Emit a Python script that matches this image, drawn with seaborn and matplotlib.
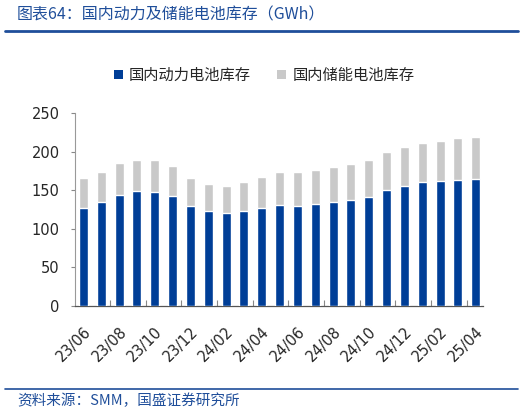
import numpy as np
import pandas as pd
import matplotlib
matplotlib.use('Agg')
import matplotlib.pyplot as plt
from matplotlib.patches import Patch
from matplotlib.lines import Line2D
import seaborn as sns

# monthly inventory, GWh
months = ['23/06', '23/07', '23/08', '23/09', '23/10', '23/11', '23/12',
          '24/01', '24/02', '24/03', '24/04', '24/05', '24/06', '24/07',
          '24/08', '24/09', '24/10', '24/11', '24/12', '25/01', '25/02',
          '25/03', '25/04']
power = [127.2, 134.9, 144.4, 148.7, 147.8, 143.1, 129.7, 122.8, 120.3, 122.8,
         126.3, 130.6, 129.3, 131.9, 134.9, 137.1, 141.8, 150.0, 156.0, 160.8,
         161.6, 163.4, 164.7]
total = [166.4, 174.1, 185.3, 189.7, 188.8, 181.9, 165.9, 158.6, 155.6, 160.3,
         166.8, 174.1, 173.7, 176.7, 180.6, 184.5, 189.7, 200.0, 206.5, 211.6,
         214.2, 217.2, 219.0]
yticks = [0, 50, 100, 150, 200, 250]

title = '图表64：国内动力及储能电池库存（GWh）'
source = '资料来源：SMM，国盛证券研究所'
series_names = ['国内动力电池库存', '国内储能电池库存']

BLUE = '#003E97'
GRAY = '#C9C9C9'
TXT_BLUE = '#1F4E9A'

sns.set_style('white')
plt.rcParams['font.family'] = ['Noto Sans CJK SC', 'DejaVu Sans']

df = pd.DataFrame({'month': months, 'power': power, 'total': total})

fig = plt.figure(figsize=(5.26, 4.15), dpi=100)
ax = fig.add_axes([0.1426, 0.2627, 0.7757, 0.465])

# stacked: total in gray, power drawn over it
sns.barplot(data=df, x='month', y='total', color=GRAY, width=0.5,
            saturation=1, ax=ax, zorder=2)
sns.barplot(data=df, x='month', y='power', color=BLUE, width=0.5,
            saturation=1, ax=ax, zorder=3)

ax.set_xlim(-0.47, len(months) - 1 + 0.41)
ax.set_ylim(0, 250)
ax.set_yticks(yticks)
ax.set_yticklabels([str(v) for v in yticks], fontsize=10.5,
                   family='DejaVu Sans')
ax.set_xlabel('')
ax.set_ylabel('')

pos = np.arange(0, len(months), 2)
ax.set_xticks(pos)
ax.set_xticklabels([months[i] for i in pos], rotation=45, ha='right',
                   rotation_mode='anchor', fontsize=10.5, family='DejaVu Sans')
ax.set_xticks(np.arange(1.5, len(months), 2), minor=True)
ax.tick_params(axis='x', which='major', length=0, pad=13)
ax.tick_params(axis='x', which='minor', direction='in', length=4,
               color='#888888', width=0.8, bottom=True)
ax.tick_params(axis='y', direction='out', length=3, color='#888888',
               width=0.8, left=True, pad=8)

for s in ['top', 'right']:
    ax.spines[s].set_visible(False)
ax.spines['left'].set_color('#999999')
ax.spines['bottom'].set_color('#555555')
ax.spines['left'].set_linewidth(0.8)
ax.spines['bottom'].set_linewidth(0.9)

# legend
handles = [Patch(facecolor=BLUE, edgecolor='none'),
           Patch(facecolor=GRAY, edgecolor='none')]
leg = fig.legend(handles, series_names, loc='center',
                 bbox_to_anchor=(0.502, 0.818), ncol=2, frameon=False,
                 fontsize=11, handlelength=0.6, handleheight=0.6,
                 handletextpad=0.4, columnspacing=1.7)

# title, source and rules
fig.text(0.032, 0.963, title, color=TXT_BLUE, fontsize=11.5, style='italic',
         va='center', ha='left')
fig.add_artist(Line2D([0.01, 0.985], [0.925, 0.925], color='#1F4E9A',
                      linewidth=2.0, transform=fig.transFigure))
fig.add_artist(Line2D([0.01, 0.985], [0.063, 0.063], color='#1F4E9A',
                      linewidth=1.2, transform=fig.transFigure))
fig.text(0.032, 0.033, source, color=TXT_BLUE, fontsize=10.5, style='italic',
         va='center', ha='left')

fig.savefig('out.png', dpi=100)
